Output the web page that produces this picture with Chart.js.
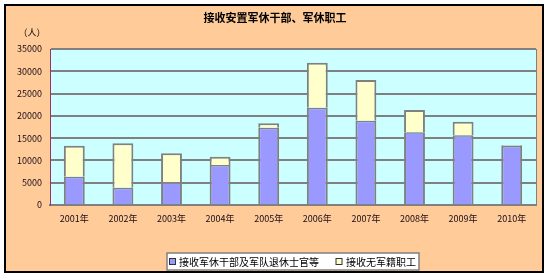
<!DOCTYPE html>
<html>
<head>
<meta charset="utf-8">
<script src="https://cdn.jsdelivr.net/npm/chart.js@4/dist/chart.umd.min.js"></script>
<style>
  html, body { margin: 0; padding: 0; background: #fff; }
</style>
</head>
<body>
<canvas id="army-chart" width="550" height="279"></canvas>
<script>
// data (persons)
const years = ['2001年', '2002年', '2003年', '2004年', '2005年', '2006年', '2007年', '2008年', '2009年', '2010年'];
const cadres = [6350, 3880, 5090, 8970, 17340, 21830, 18910, 16300, 15640, 13240];
const workers = [6950, 9960, 6510, 1870, 990, 10100, 9130, 5000, 3060, 160];
const yTicks = [0, 5000, 10000, 15000, 20000, 25000, 30000, 35000];

const FONT = '"Noto Sans CJK SC", "Noto Sans", sans-serif';

// background, frame, title, unit label and legend box
const frame = {
  id: 'frame',
  beforeDraw: (chart) => {
    const c = chart.ctx;
    const a = chart.chartArea;
    c.save();
    c.fillStyle = '#FFCC99';
    c.fillRect(5, 5, 538, 267);
    c.strokeStyle = '#000';
    c.lineWidth = 2;
    c.strokeRect(5, 5, 538, 267);
    c.fillStyle = '#CCFFFF';
    c.fillRect(a.left, a.top, a.right - a.left, a.bottom - a.top);
    c.restore();
  },
  afterDraw: (chart) => {
    const c = chart.ctx;
    const a = chart.chartArea;
    c.save();
    // plot area right edge
    c.strokeStyle = '#808080';
    c.lineWidth = 1;
    c.beginPath();
    c.moveTo(a.right + 0.5, a.top);
    c.lineTo(a.right + 0.5, a.bottom);
    c.stroke();

    c.fillStyle = '#000';
    c.textBaseline = 'middle';
    c.textAlign = 'center';
    c.font = 'bold 11px ' + FONT;
    c.fillText('接收安置军休干部、军休职工', 275, 18);
    c.font = '9px ' + FONT;
    c.fillText('（人）', 32, 33);

    // legend
    c.fillStyle = '#fff';
    c.fillRect(167, 253, 252, 17);
    c.strokeStyle = '#808080';
    c.lineWidth = 1.5;
    c.strokeRect(167, 253, 252, 17);
    c.textAlign = 'left';
    c.font = '10px ' + FONT;
    const pos = [[169.5, 179], [336, 346]];
    chart.data.datasets.forEach((ds, i) => {
      c.fillStyle = ds.backgroundColor;
      c.fillRect(pos[i][0], 258.5, 6, 6);
      c.strokeStyle = '#333';
      c.lineWidth = 1;
      c.strokeRect(pos[i][0], 258.5, 6, 6);
      c.fillStyle = '#000';
      c.fillText(ds.label, pos[i][1], 262);
    });
    c.restore();
  }
};

const ctx = document.getElementById('army-chart').getContext('2d');
const chart = new Chart(ctx, {
  type: 'bar',
  data: {
    labels: years,
    datasets: [{
      label: '接收军休干部及军队退休士官等',
      data: cadres,
      backgroundColor: '#9999FF',
      borderColor: '#808080',
      borderWidth: { top: 1.5, left: 2, right: 2, bottom: 0 },
      borderSkipped: false,
      barPercentage: 0.43,
      categoryPercentage: 1
    }, {
      label: '接收无军籍职工',
      data: workers,
      backgroundColor: '#FFFFCC',
      borderColor: '#808080',
      borderWidth: { top: 2, left: 2, right: 2, bottom: 0 },
      borderSkipped: false,
      barPercentage: 0.43,
      categoryPercentage: 1
    }]
  },
  plugins: [frame],
  options: {
    responsive: false,
    animation: false,
    devicePixelRatio: 1,
    layout: {
      padding: { left: 10, right: 14, top: 49, bottom: 54 }
    },
    plugins: {
      legend: { display: false },
      title: { display: false },
      tooltip: { enabled: false }
    },
    scales: {
      x: {
        stacked: true,
        afterFit: (scale) => { scale.height = 20; },
        grid: { display: false, drawTicks: false },
        border: { color: '#808080', width: 2 },
        ticks: {
          color: '#1a0a1a',
          padding: 8,
          maxRotation: 0,
          font: { family: FONT, size: 9 }
        }
      },
      y: {
        stacked: true,
        min: 0,
        max: 35000,
        afterFit: (scale) => { scale.width = 40; },
        afterBuildTicks: (scale) => { scale.ticks = yTicks.map(v => ({ value: v })); },
        grid: { color: '#808080', lineWidth: 2, drawTicks: false },
        border: { color: '#993366', width: 1 },
        ticks: {
          color: '#1a0a1a',
          padding: 8,
          font: { family: FONT, size: 9 },
          callback: (v) => String(v)
        }
      }
    }
  }
});
</script>
</body>
</html>
